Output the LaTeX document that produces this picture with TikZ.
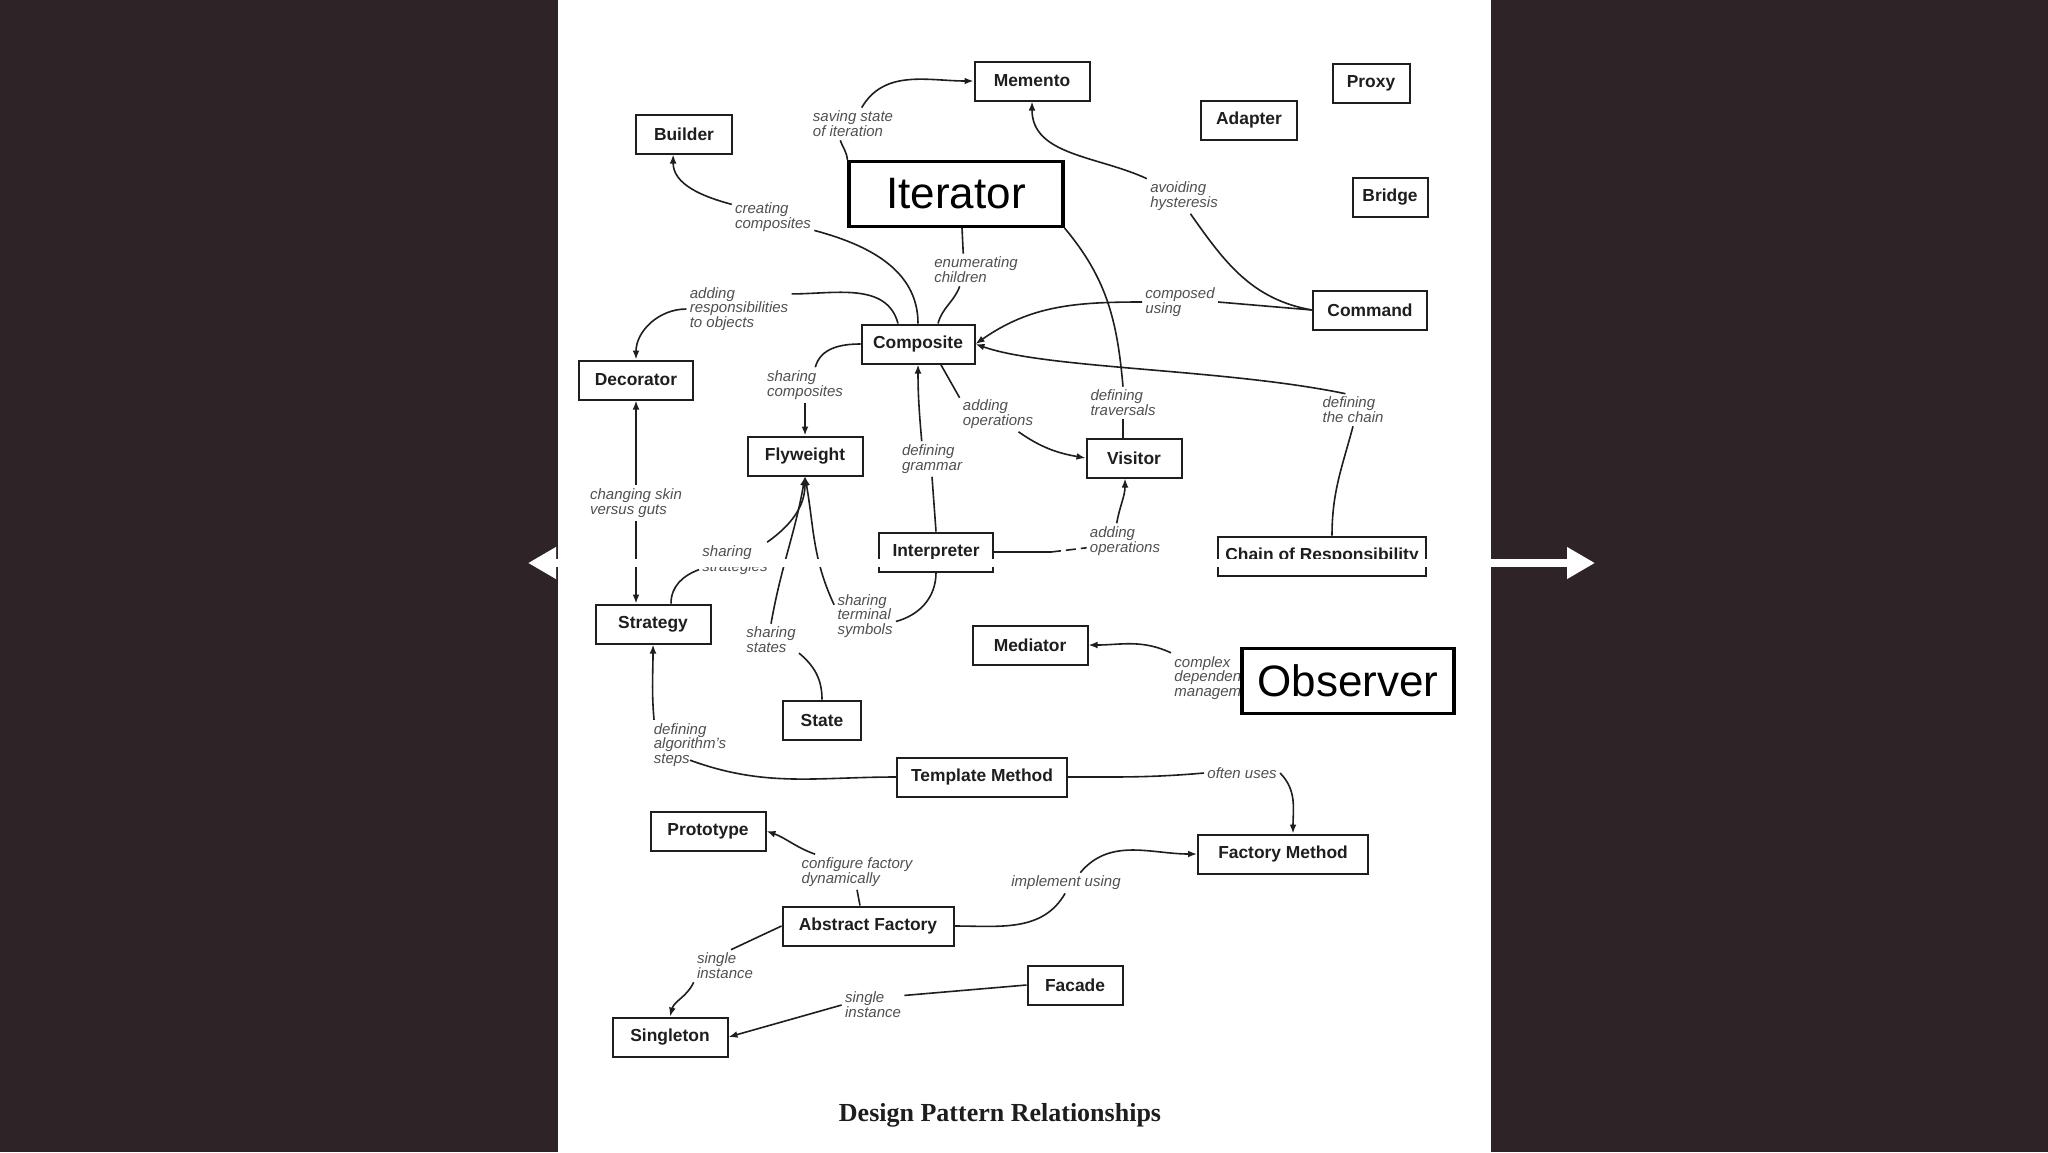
\documentclass[tikz,border=0pt]{standalone}
\usepackage{fontspec}
\setmainfont{Liberation Sans}
\newfontfamily\capfont{Liberation Serif}
\usetikzlibrary{arrows.meta}

\definecolor{slide}{RGB}{46,36,40}
\definecolor{ink}{RGB}{30,30,30}
\definecolor{pencil}{RGB}{80,80,80}

\begin{document}
\begin{tikzpicture}[x=0.5pt, y=-0.5pt,
every node/.style={inner sep=2pt},
pbox/.style={draw=ink, line width=1pt, fill=white, text=ink,
    font=\fontsize{8.7}{10}\selectfont\bfseries,
    minimum height=19.5pt, inner xsep=3pt, minimum width=#1},
big/.style={draw=black, line width=1.6pt, fill=white,
    font=\fontsize{22}{24}\selectfont, minimum height=32.5pt, minimum width=#1},
rel/.style={text=pencil, font=\fontsize{7.5}{7.4}\selectfont\itshape,
    align=left, inner sep=1.5pt},
link/.style={draw=ink, line width=0.8pt},
arr/.style={link, -{Latex[length=4.5pt,width=3.4pt]}}
]
\useasboundingbox (0,0) rectangle (2048,1152);
\fill[slide] (0,0) rectangle (2048,1152);
\fill[white] (558,0) rectangle (1491,1152);

\foreach \nm/\x/\y/\w/\txt in {
    memento/1032/81/57.5/Memento, proxy/1371/83/38.5/Proxy,
    adapter/1249/120/48/Adapter, bridge/1390/197/37.5/Bridge,
    cmd/1370/310/57/Command, builder/684/134/48/Builder,
    comp/918/344/56.5/Composite, deco/636/380/57/Decorator,
    fly/805/456/57.5/Flyweight, interp/936/552/57/Interpreter,
    vis/1134/458/47.5/Visitor, cor/1322/556/104/Chain of Responsibility,
    strat/653/624/57.5/Strategy, state/822/720/39/State,
    med/1030/645/57.5/Mediator, tm/982/777/85/Template Method,
    fm/1283/854/85/Factory Method, proto/708/831/57.5/Prototype,
    af/868/926/85.5/Abstract Factory, facade/1075/985/47.5/Facade,
    single/670/1037/57.5/Singleton%
    }
  \node[pbox=\w pt] (\nm) at (\x,\y) {\txt};

\foreach \nm/\x/\y/\txt in {
    lsave/853/124/{saving state\\of iteration},
    lcreate/773/217/{creating\\composites},
    ladd/739/309/{adding\\responsibilities\\to objects},
    lenum/976/270/{enumerating\\children},
    lavoid/1184/196/{avoiding\\hysteresis},
    lcomposed/1180/302/{composed\\using},
    ltrav/1123/403/{defining\\traversals},
    lchain/1353/410/{defining\\the chain},
    laddop/998/414/{adding\\operations},
    lgrammar/932/459/{defining\\grammar},
    lshcomp/805/385/{sharing\\composites},
    lskin/636/503/{changing skin\\versus guts},
    lshstrat/735/560/{sharing\\strategies},
    laddop2/1125/541/{adding\\operations},
    lshstates/771/640/{sharing\\states},
    lterm/865/616/{sharing\\terminal\\symbols},
    lalgo/690/745/{defining\\algorithm's\\steps},
    loften/1242/773/{often uses},
    lconfig/857/872/{configure factory\\dynamically},
    limpl/1066/883/{implement using},
    lsingle1/725/966/{single\\instance},
    lsingle2/873/1005/{single\\instance}%
    }
  \node[rel] (\nm) at (\x,\y) {\txt};
\node[rel, anchor=west] (lcomplex) at (1171,678) {complex\\dependency\\management};

\node[big=107pt] (iter) at (956,194) {Iterator};
\node[big=106pt] (obs) at (1348,681) {Observer};

\node[font=\capfont\fontsize{13}{15}\selectfont\bfseries, text=ink] (title) at (1000,1115)
    {Design Pattern Relationships};

\draw[link] (iter.north west) to[out=95,in=-70] (lsave.232);
\draw[arr] (lsave.62) to[out=60,in=180] (memento.west);
\draw[arr] (lcreate.163) to[out=165,in=-90] (builder.242);
\draw[link] (lcreate.-18) to[out=-15,in=90] (comp.north);
\draw[link] ([xshift=-10pt]comp.north) to[out=105,in=0] (ladd.16);
\draw[arr] (ladd.west) to[out=180,in=90] (deco.north);
\draw[link] ([xshift=3pt]iter.south) -- (lenum.128);
\draw[link] (lenum.225) to[out=-110,in=75] ([xshift=10pt]comp.north);
\draw[link] (iter.south east) to[out=-50,in=95] (ltrav.north);
\draw[link] (ltrav.south) -- (ltrav.south |- vis.north);
\draw[link] (cmd.west) -- (lcomposed.east);
\draw[arr] (lcomposed.west) to[out=180,in=35] (comp.east);
\draw[arr] (lavoid.155) to[out=155,in=-90] (memento.south);
\draw[link] (lavoid.-70) to[out=-55,in=170] (cmd.west);
\draw[link] ([xshift=5pt]cor.north) to[out=90,in=-105] (lchain.south);
\draw[arr] (lchain.115) .. controls +(-120,-25) and +(70,25) .. (comp.east);
\draw[link] (comp.-42) -- (laddop.157);
\draw[arr] (laddop.-41) to[out=-35,in=170] (vis.west);
\draw[arr] (lgrammar.120) to[out=95,in=-90] (comp.south);
\draw[link] (lgrammar.south) -- (interp.north);
\draw[link] (interp.east) -- ++(57,0) coordinate (idash);
\draw[link, dash pattern=on 5pt off 2.5pt] (idash) -- (laddop2.190);
\draw[arr] (laddop2.115) to[out=80,in=-90] ([xshift=-4.5pt]vis.south);
\draw[link] (comp.west) to[out=180,in=75] (lshcomp.60);
\draw[arr] (lshcomp.south) -- (fly.north);
\draw[arr] (lskin.north) -- (lskin.north |- deco.south);
\draw[arr] (lskin.south) -- (lskin.south |- strat.north);
\draw[link] ([xshift=9pt]strat.north) to[out=90,in=200] (lshstrat.195);
\draw[arr] (lshstrat.29) to[out=35,in=-90] (fly.south);
\draw[link] (state.north) to[out=90,in=-40] (lshstates.-25);
\draw[arr] (lshstates.north) to[out=80,in=-100] (fly.south);
\draw[link] (interp.south) to[out=-90,in=15] (lterm.-10);
\draw[arr] (lterm.160) to[out=115,in=-80] (fly.south);
\draw[arr] (lcomplex.north west) to[out=155,in=0] (med.east);
\draw[link] (tm.west) to[out=180,in=-20] ([yshift=5pt]lalgo.south);
\draw[arr] (lalgo.145) to[out=95,in=-90] (strat.south);
\draw[link] (tm.east) to[out=0,in=185] (loften.west);
\draw[arr] (loften.east) to[out=-45,in=90] ([xshift=5pt]fm.north);
\draw[link] ([xshift=-4pt]af.north) -- (lconfig.south);
\draw[arr] (lconfig.157) to[out=160,in=-20] (proto.east);
\draw[link] (af.east) to[out=0,in=-120] (limpl.265);
\draw[arr] (limpl.36) to[out=50,in=180] (fm.west);
\draw[link] (af.west) -- (lsingle1.70);
\draw[arr] (lsingle1.south west) to[out=-115,in=75] (single.north);
\draw[link] (facade.west) -- (lsingle2.17);
\draw[arr] (lsingle2.west) -- (single.east);

\coordinate (arrL) at (528,563);
\coordinate (arrR) at (1595,563);
\draw[white, line width=4pt, {Triangle[length=14pt,width=15pt]}-{Triangle[length=14pt,width=15pt]}]
    (arrL) -- (arrR);
\end{tikzpicture}
\end{document}
